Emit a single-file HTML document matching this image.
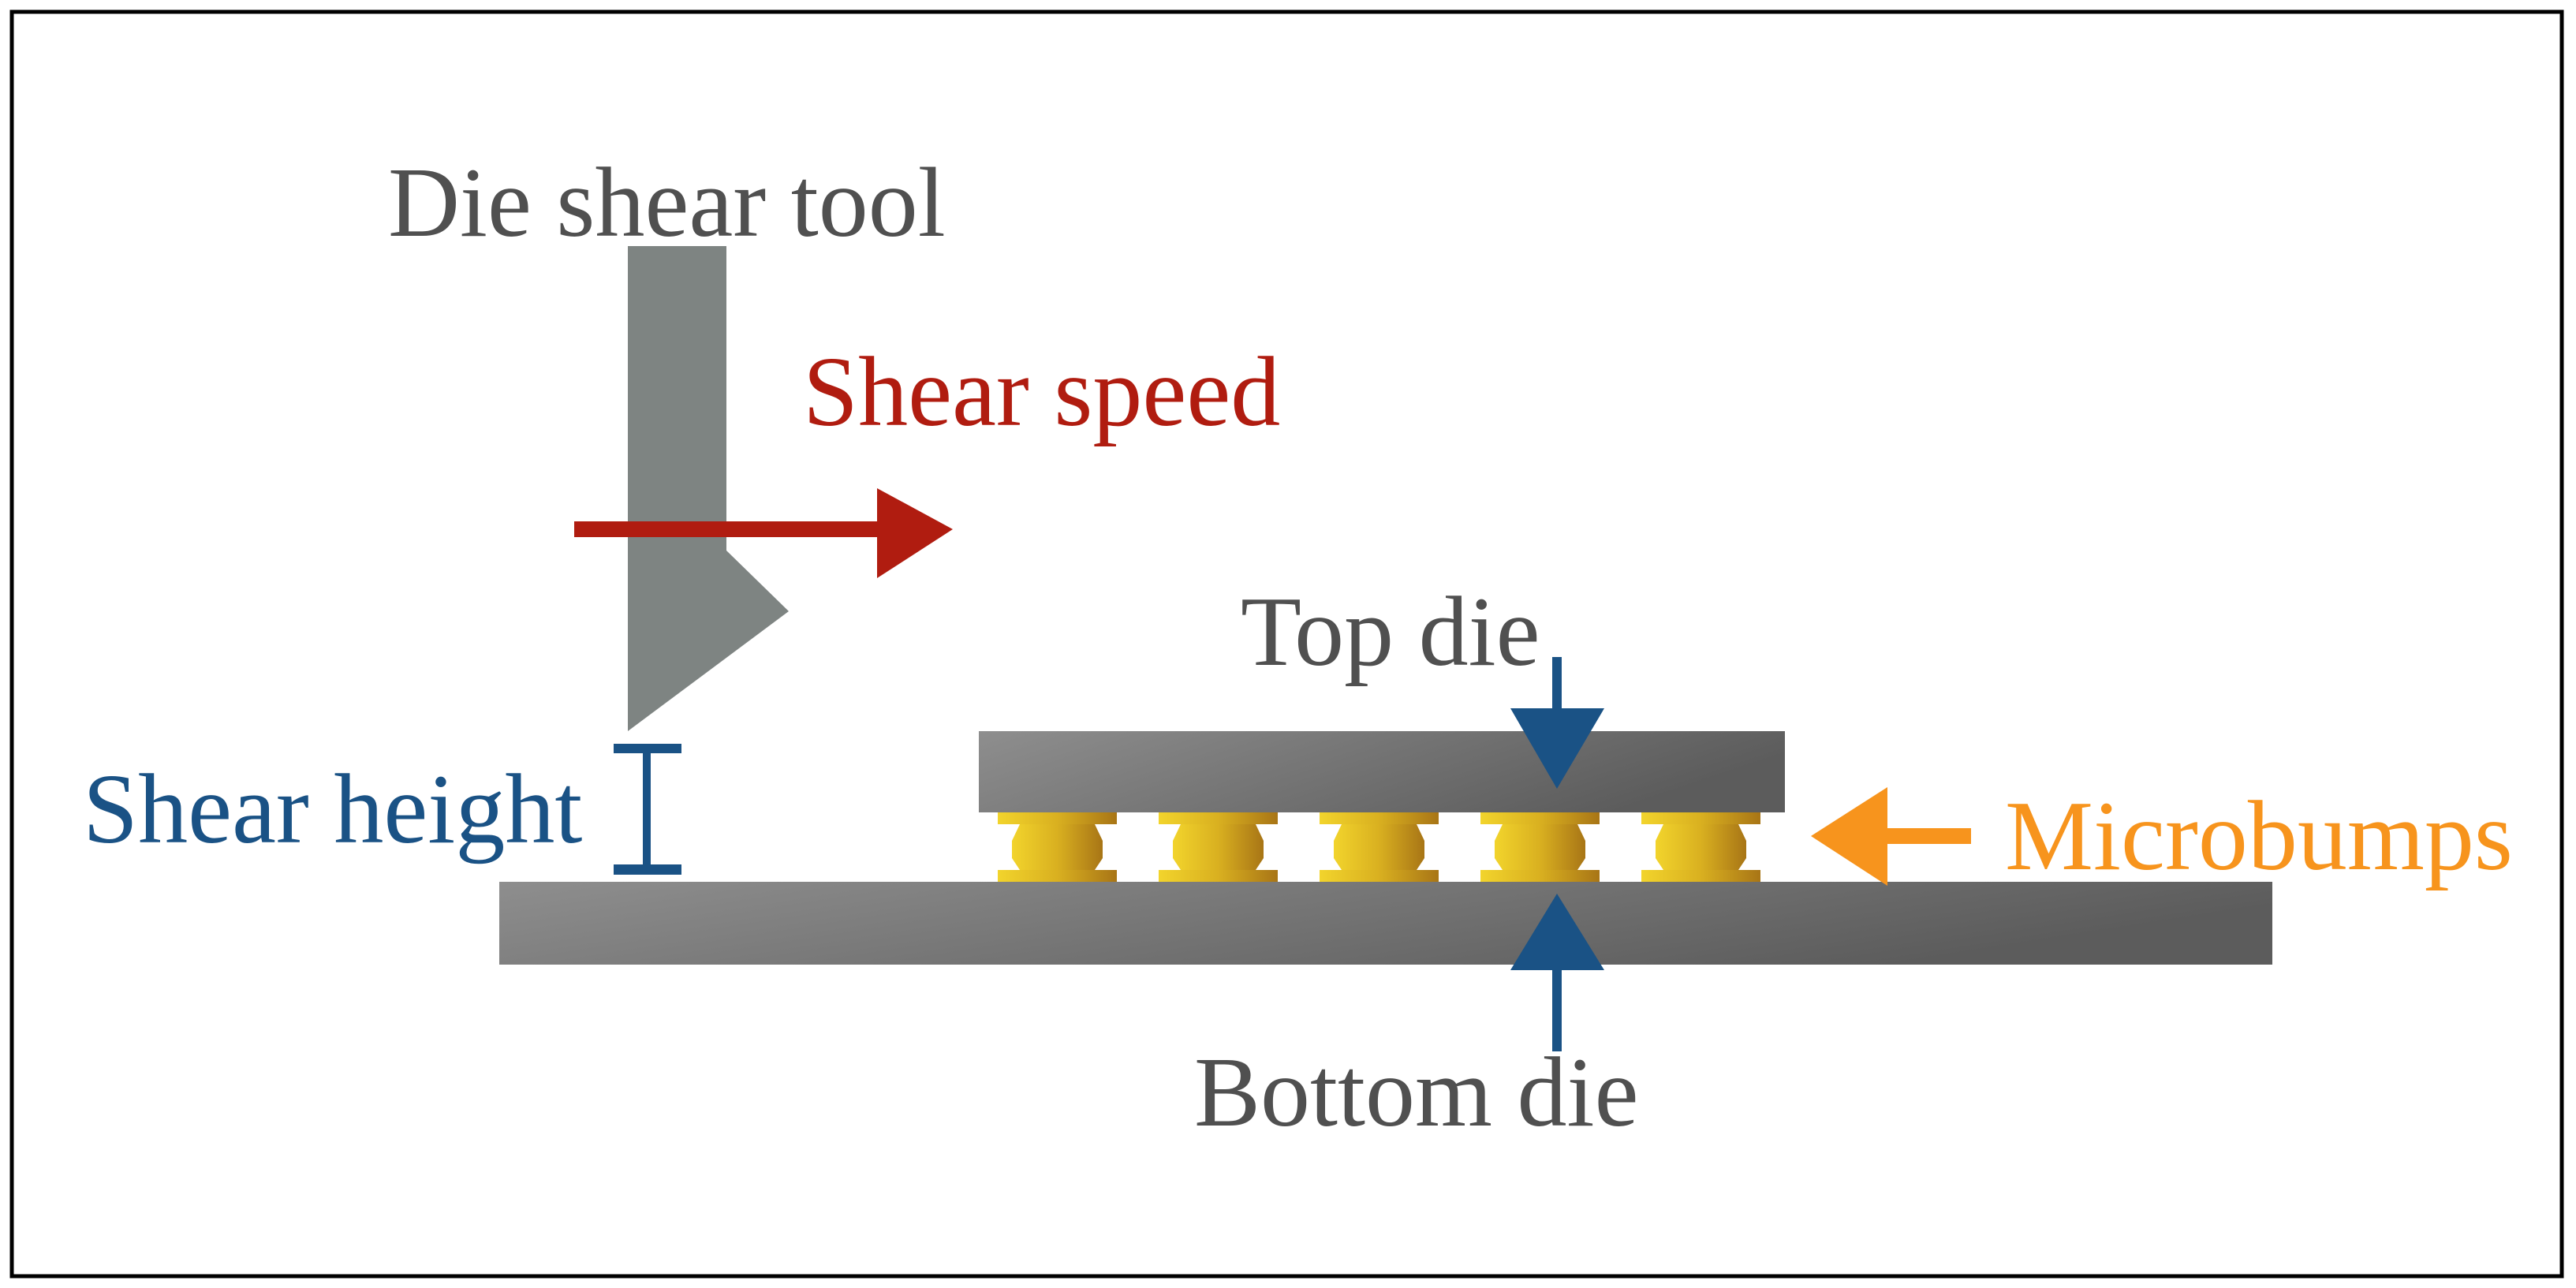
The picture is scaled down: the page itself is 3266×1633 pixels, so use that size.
<!DOCTYPE html>
<html><head><meta charset="utf-8"><style>
html,body{margin:0;padding:0;background:#fff;}
svg{display:block;}
text{font-family:"Liberation Serif",serif;font-size:126px;}
</style></head><body>
<svg width="3266" height="1633" viewBox="0 0 3266 1633" xmlns="http://www.w3.org/2000/svg">
<defs>
<linearGradient id="die" x1="0" y1="0" x2="1" y2="0.3">
<stop offset="0" stop-color="#8e8e8e"/><stop offset="1" stop-color="#5c5c5c"/></linearGradient>
<linearGradient id="gold" x1="0" y1="0" x2="1" y2="0">
<stop offset="0" stop-color="#f2d42c"/><stop offset="0.5" stop-color="#d9b020"/><stop offset="1" stop-color="#a87516"/></linearGradient>
<g id="bump">
<rect x="0" y="0" width="151" height="15" fill="url(#gold)"/>
<polygon points="28,15 123,15 133,36 133,58 123,73 28,73 18,58 18,36" fill="url(#gold)"/>
<rect x="0" y="73" width="151" height="15" fill="url(#gold)"/>
</g>
</defs>
<rect x="15" y="15" width="3233" height="1603" fill="#fff" stroke="#000" stroke-width="5"/>
<text x="492" y="299" fill="#505050">Die shear tool</text>
<polygon points="796,312 921,312 921,698 1000,775 796,927" fill="#7e8482"/>
<text x="1018" y="539" fill="#b01c10">Shear speed</text>
<rect x="728" y="661" width="400" height="20" fill="#b01c10"/>
<polygon points="1112,619 1208,671 1112,733" fill="#b01c10"/>
<text x="1573" y="843" fill="#505050">Top die</text>
<rect x="633" y="1118" width="2248" height="105" fill="url(#die)"/>
<rect x="1241" y="927" width="1022" height="103" fill="url(#die)"/>
<use href="#bump" x="1265" y="1030"/>
<use href="#bump" x="1469" y="1030"/>
<use href="#bump" x="1673" y="1030"/>
<use href="#bump" x="1877" y="1030"/>
<use href="#bump" x="2081" y="1030"/>
<rect x="1968" y="833" width="12" height="70" fill="#1a5285"/>
<polygon points="1915,898 2034,898 1974,1000" fill="#1a5285"/>
<polygon points="1974,1133 2034,1230 1915,1230" fill="#1a5285"/>
<rect x="1968" y="1225" width="12" height="108" fill="#1a5285"/>
<text x="1514" y="1427" fill="#505050">Bottom die</text>
<polygon points="2296,1060 2393,998 2393,1123" fill="#f7941d"/>
<rect x="2385" y="1050" width="114" height="20" fill="#f7941d"/>
<text x="2542" y="1102" fill="#f7941d">Microbumps</text>
<text x="105" y="1068" fill="#1a5285">Shear height</text>
<rect x="778" y="943" width="86" height="12" fill="#1a5285"/>
<rect x="815" y="950" width="10" height="150" fill="#1a5285"/>
<rect x="778" y="1096" width="86" height="13" fill="#1a5285"/>
</svg>
</body></html>
